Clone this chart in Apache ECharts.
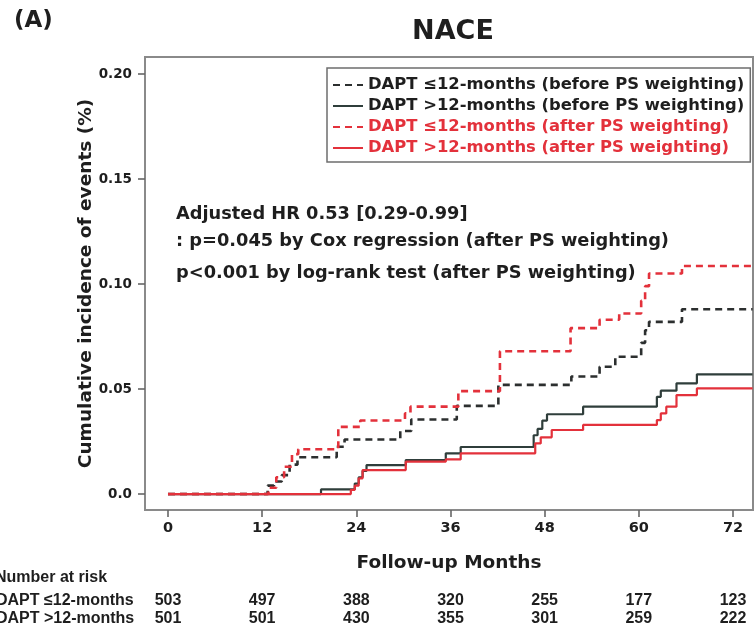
<!DOCTYPE html>
<html>
<head>
<meta charset="utf-8">
<script src="https://cdn.jsdelivr.net/npm/echarts@6/dist/echarts.min.js"></script>
<style>
  html, body { margin: 0; padding: 0; background: #ffffff; }
  #chart { width: 756px; height: 631px; }
</style>
</head>
<body>
<div id="chart"></div>
<script>
// Axis ticks
const monthTicks = [0, 12, 24, 36, 48, 60, 72];
const incidenceTicks = [0, 0.05, 0.10, 0.15, 0.20];

// Series labels
const seriesNames = [
  'DAPT ≤12-months (before PS weighting)',
  'DAPT >12-months (before PS weighting)',
  'DAPT ≤12-months (after PS weighting)',
  'DAPT >12-months (after PS weighting)'
];

// Kaplan-Meier cumulative incidence, [month, value] at each event time
const shortBefore = [
  [0, 0], [12.4, 0], [12.7, 0.004], [13.5, 0.006], [14.5, 0.009], [15.5, 0.014],
  [16.5, 0.0175], [21.5, 0.0225], [22.5, 0.026], [29.6, 0.030], [31.0, 0.0355],
  [36.8, 0.042], [42.1, 0.052], [51.4, 0.056], [55.0, 0.0606], [57.0, 0.0654],
  [60.3, 0.072], [60.8, 0.078], [61.3, 0.082], [65.5, 0.088], [74.5, 0.088]
];
const longBefore = [
  [0, 0], [19.5, 0.0022], [23.8, 0.005], [24.3, 0.008], [24.8, 0.011], [25.3, 0.0138],
  [30.3, 0.0162], [35.4, 0.0194], [37.3, 0.0224], [46.6, 0.028], [47.1, 0.031],
  [47.7, 0.035], [48.3, 0.038], [52.9, 0.0416], [62.3, 0.0463], [62.8, 0.0492],
  [64.8, 0.0527], [67.4, 0.057], [74.5, 0.057]
];
const shortAfter = [
  [0, 0], [12.4, 0], [12.8, 0.003], [13.8, 0.008], [14.8, 0.013], [15.8, 0.019],
  [16.6, 0.0213], [21.7, 0.032], [24.5, 0.035], [30.2, 0.0384], [30.9, 0.0416],
  [37.0, 0.049], [42.3, 0.068], [51.3, 0.079], [55.0, 0.083], [57.5, 0.086],
  [60.3, 0.092], [60.8, 0.099], [61.3, 0.105], [65.5, 0.1086], [74.5, 0.1086]
];
const longAfter = [
  [0, 0], [23.3, 0.002], [23.8, 0.004], [24.3, 0.0075], [24.8, 0.0114],
  [30.3, 0.0154], [35.4, 0.0165], [37.3, 0.0194], [46.8, 0.0241], [47.5, 0.027],
  [48.9, 0.0305], [52.9, 0.0329], [62.3, 0.0352], [62.8, 0.0384], [63.5, 0.0416],
  [64.8, 0.0471], [67.4, 0.0503], [74.5, 0.0503]
];

// Number at risk
const riskTitle = 'Number at risk';
const riskGroups = ['DAPT ≤12-months', 'DAPT >12-months'];
const riskShort = [503, 497, 388, 320, 255, 177, 123];
const riskLong = [501, 501, 430, 355, 301, 259, 222];

// Statistical notes
const noteLines = [
  'Adjusted HR 0.53 [0.29-0.99]',
  ': p=0.045 by Cox regression (after PS weighting)',
  'p<0.001 by log-rank test (after PS weighting)'
];

const FONT = '"DejaVu Sans", "Liberation Sans", Arial, sans-serif';
const TABLE_FONT = '"Liberation Sans Narrow", "Liberation Sans", Arial, sans-serif';
const INK = '#1e1e1e';
const RED = '#e3313b';
const DARK = '#2c2f2f';
const SLATE = '#2f3e3b';
const FRAME = '#8a8a8a';

const chart = echarts.init(document.getElementById('chart'), null, { renderer: 'canvas' });

function km(name, data, color, dashed, z) {
  return {
    name: name,
    type: 'line',
    step: 'end',
    data: data,
    showSymbol: false,
    symbol: 'none',
    silent: true,
    z: z,
    lineStyle: { color: color, width: dashed ? 2.6 : 2.2, type: dashed ? [7, 5] : 'solid' },
    itemStyle: { color: color }
  };
}

const frameLine = { show: true, onZero: false, lineStyle: { color: FRAME, width: 2 } };
const tickStyle = { color: '#666666', width: 1.6 };

chart.setOption({
  animation: false,
  backgroundColor: '#ffffff',
  textStyle: { fontFamily: FONT },
  title: [
    { text: '(A)', left: 9, top: 5,
      textStyle: { fontFamily: FONT, fontSize: 23, fontWeight: 'bold', color: INK } },
    { text: 'NACE', left: 448, top: 13, textAlign: 'center',
      textStyle: { fontFamily: FONT, fontSize: 27, fontWeight: 'bold', color: INK } }
  ],
  grid: {
    left: 145, right: 3, top: 57, bottom: 121,
    show: true, borderColor: FRAME, borderWidth: 2, backgroundColor: 'transparent'
  },
  legend: {
    orient: 'vertical',
    left: 327, top: 68,
    padding: [9, 6, 6, 5],
    itemWidth: 30, itemHeight: 14, itemGap: 5,
    borderColor: '#6e6e6e', borderWidth: 1.5,
    backgroundColor: '#ffffff',
    selectedMode: false,
    itemStyle: { opacity: 0 },
    textStyle: { fontFamily: FONT, fontSize: 16.4, fontWeight: 'bold', lineHeight: 16 },
    data: [
      { name: seriesNames[0], textStyle: { color: INK } },
      { name: seriesNames[1], textStyle: { color: INK } },
      { name: seriesNames[2], textStyle: { color: RED } },
      { name: seriesNames[3], textStyle: { color: RED } }
    ]
  },
  xAxis: {
    type: 'value',
    min: -2.93, max: 74.55,
    name: 'Follow-up Months',
    nameLocation: 'middle',
    nameGap: 44,
    nameMoveOverlap: false,
    nameTextStyle: { fontFamily: FONT, fontSize: 18.5, fontWeight: 'bold', color: INK },
    axisLine: frameLine,
    splitLine: { show: false },
    axisTick: { show: true, inside: false, length: 7, customValues: monthTicks, lineStyle: tickStyle },
    axisLabel: { customValues: monthTicks, margin: 11,
      fontFamily: FONT, fontSize: 14.5, fontWeight: 'bold', color: INK }
  },
  yAxis: {
    type: 'value',
    min: -0.0076, max: 0.2081,
    name: 'Cumulative incidence of events (%)',
    nameLocation: 'middle',
    nameGap: 49,
    nameMoveOverlap: false,
    nameTextStyle: { fontFamily: FONT, fontSize: 18.5, fontWeight: 'bold', color: INK },
    axisLine: frameLine,
    splitLine: { show: false },
    axisTick: { show: true, inside: false, length: 7, customValues: incidenceTicks, lineStyle: tickStyle },
    axisLabel: { customValues: incidenceTicks, margin: 13,
      fontFamily: FONT, fontSize: 13.5, fontWeight: 'bold', color: INK,
      formatter: v => (Math.abs(v) < 1e-9 ? '0.0' : v.toFixed(2)) }
  },
  series: [
    km(seriesNames[0], shortBefore, DARK, true, 2),
    km(seriesNames[1], longBefore, SLATE, false, 3),
    km(seriesNames[2], shortAfter, RED, true, 4),
    km(seriesNames[3], longAfter, RED, false, 5)
  ]
});

// Notes and number-at-risk table, placed against the month axis
function placeText() {
  const els = [];
  const noteY = [214, 241, 273];
  noteLines.forEach((t, i) => {
    els.push({ type: 'text', x: 176, y: noteY[i],
      style: { text: t, font: 'bold 17.8px ' + FONT, fill: INK, verticalAlign: 'middle' } });
  });
  els.push({ type: 'text', x: -5, y: 578,
    style: { text: riskTitle, font: 'bold 16px ' + TABLE_FONT, fill: INK, verticalAlign: 'middle' } });
  const rowY = [601, 619];
  const rows = [riskShort, riskLong];
  riskGroups.forEach((g, r) => {
    els.push({ type: 'text', x: -4, y: rowY[r],
      style: { text: g, font: 'bold 16px ' + TABLE_FONT, fill: INK, verticalAlign: 'middle' } });
    rows[r].forEach((n, i) => {
      const px = chart.convertToPixel({ xAxisIndex: 0 }, monthTicks[i]);
      els.push({ type: 'text', x: px, y: rowY[r],
        style: { text: String(n), font: 'bold 16px ' + TABLE_FONT, fill: INK,
          align: 'center', verticalAlign: 'middle' } });
    });
  });
  chart.setOption({ graphic: els });
}
placeText();
</script>
</body>
</html>
